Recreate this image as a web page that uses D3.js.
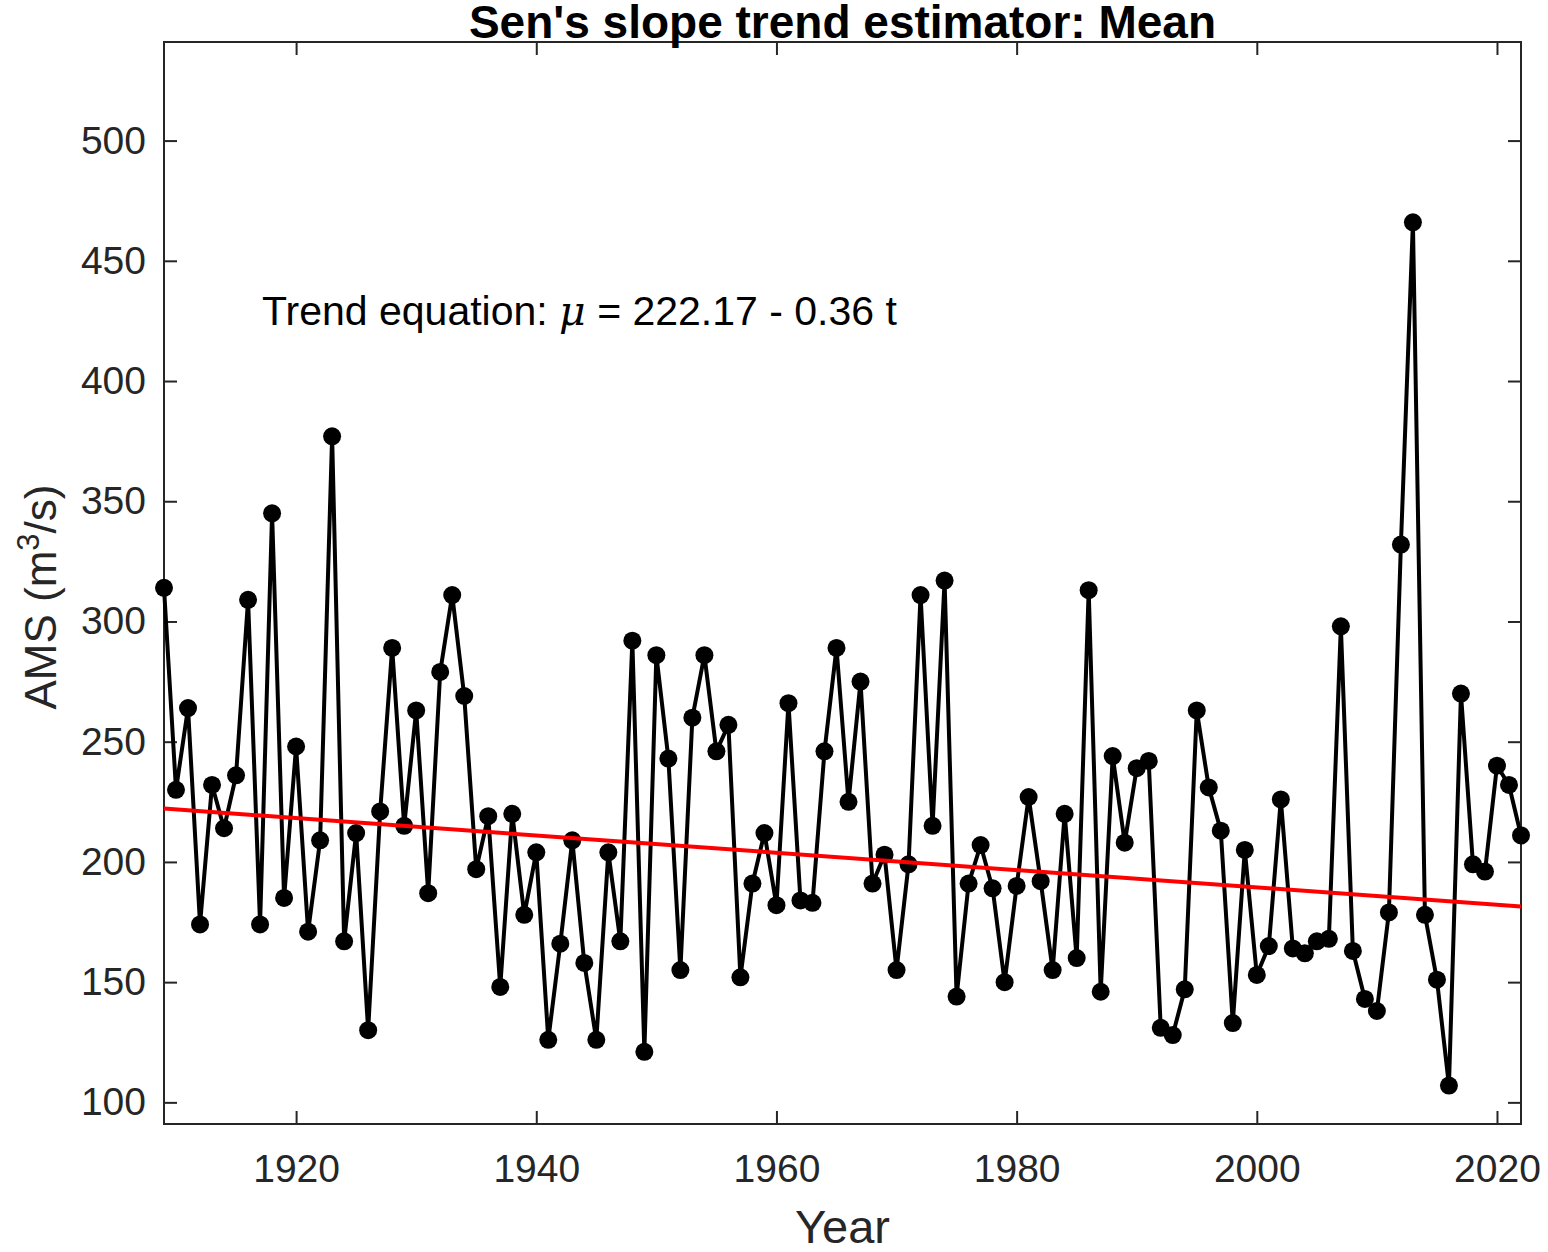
<!DOCTYPE html>
<html><head><meta charset="utf-8">
<script src="https://cdn.jsdelivr.net/npm/d3@7"></script>
<style>body{margin:0;background:#fff}svg{font-family:"Liberation Sans",Arial,sans-serif}</style>
</head><body>
<div id="chart"></div>
<script>
const startYear = 1909;
const ams = [314,230,264,174,232,214,236,309,174,345,185,248,171,209,377,167,212,130,221,289,
  215,263,187,279,311,269,197,219,148,220,178,204,126,166,209,158,126,204,167,292,
  121,286,243,155,260,286,246,257,152,191,212,182,266,184,183,246,289,225,275,191,
  203,155,199,311,215,317,144,191,207,189,150,190,227,192,155,220,160,313,146,244,
  208,239,242,131,128,147,263,231,213,133,205,153,165,226,164,162,167,168,298,163,
  143,138,179,332,466,178,151,107,270,199,196,240,232,211];
const trendA = 222.17, trendB = -0.36;
const xTicks = [1920,1940,1960,1980,2000,2020];
const yTicks = [100,150,200,250,300,350,400,450,500];

const width = 1548, height = 1252;
const m = {l:164, r:1521, t:42, b:1124};
const data = ams.map((v,i) => ({year: startYear+i, v}));

const svg = d3.select('#chart').append('svg').attr('width', width).attr('height', height);
const x = d3.scaleLinear().domain([1909,2022]).range([m.l,m.r]);
const y = d3.scaleLinear().domain([91,541]).range([m.b,m.t]);
const tc = '#262626';

// axes (ticks inward)
const axB = svg.append('g').attr('transform', `translate(0,${m.b})`)
  .call(d3.axisBottom(x).tickValues(xTicks).tickFormat(d3.format('d')).tickSize(-13).tickPadding(30));
const axT = svg.append('g').attr('transform', `translate(0,${m.t})`)
  .call(d3.axisTop(x).tickValues(xTicks).tickFormat('').tickSize(-13));
const axL = svg.append('g').attr('transform', `translate(${m.l},0)`)
  .call(d3.axisLeft(y).tickValues(yTicks).tickSize(-13).tickPadding(18));
const axR = svg.append('g').attr('transform', `translate(${m.r},0)`)
  .call(d3.axisRight(y).tickValues(yTicks).tickFormat('').tickSize(-13));
[axB,axT,axL,axR].forEach(a => {
  a.select('.domain').remove();
  a.selectAll('line').attr('stroke', tc).attr('stroke-width', 2);
  a.selectAll('text').attr('fill', tc).style('font-size', '39px');
});
svg.append('rect').attr('x', m.l).attr('y', m.t).attr('width', m.r-m.l).attr('height', m.b-m.t)
  .attr('fill','none').attr('stroke', tc).attr('stroke-width', 2);

// series
const line = d3.line().x(d => x(d.year)).y(d => y(d.v));
svg.append('path').datum(data).attr('d', line).attr('fill','none')
  .attr('stroke','#000').attr('stroke-width', 4);
svg.append('g').selectAll('circle').data(data).enter().append('circle')
  .attr('cx', d => x(d.year)).attr('cy', d => y(d.v)).attr('r', 9).attr('fill','#000');

// trend
svg.append('line')
  .attr('x1', x(1909)).attr('y1', y(trendA))
  .attr('x2', x(2022)).attr('y2', y(trendA + trendB*(2022-1909)))
  .attr('stroke','#ff0000').attr('stroke-width', 4);

// text
svg.append('text').attr('x', (m.l+m.r)/2).attr('y', 38).attr('text-anchor','middle')
  .style('font-size','46px').style('font-weight','bold').text("Sen's slope trend estimator: Mean");
const eq = svg.append('text').attr('x', 262).attr('y', 325).style('font-size','41px');
eq.append('tspan').text('Trend equation: ');
eq.append('tspan').style('font-style','italic').style('font-family','"DejaVu Serif",serif').text('μ');
eq.append('tspan').text(' = 222.17 - 0.36 t');
svg.append('text').attr('x', (m.l+m.r)/2).attr('y', 1243).attr('text-anchor','middle')
  .attr('fill', tc).style('font-size','47px').text('Year');
const yl = svg.append('text').attr('transform', `translate(56,${(m.t+m.b)/2 + 14}) rotate(-90)`)
  .attr('text-anchor','middle').attr('fill', tc).style('font-size','44px');
yl.append('tspan').text('AMS (m');
yl.append('tspan').attr('dy', -17).style('font-size','31px').text('3');
yl.append('tspan').attr('dy', 17).text('/s)');
</script>
</body></html>
